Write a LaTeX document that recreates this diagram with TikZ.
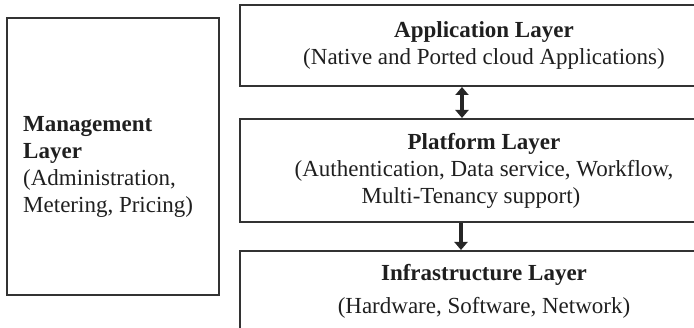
\documentclass[tikz,border=0pt]{standalone}
\usepackage{fontspec}
\setmainfont{Liberation Serif}
\usetikzlibrary{arrows.meta,positioning}

\begin{document}
\begin{tikzpicture}
[
	x					= 1pt,
	y					= -1pt,
	every node/.style	=
	{
		font			= \fontsize{23}{27}\selectfont,
		text			= black!88,
	},
	layer/.style		=
	{
		draw			= black!80,
		line width		= 2pt,
		inner sep		= 0pt,
		minimum width	= 488pt,
		align			= center,
	},
	updown/.style		=
	{
		{Triangle[length = 8pt, width = 13pt]}-{Triangle[length = 8pt, width = 13pt]},
		line width		= 4.5pt,
		draw			= black!85,
	},
	down/.style			=
	{
		-{Triangle[length = 8pt, width = 13pt]},
		line width		= 4.5pt,
		draw			= black!85,
	},
]

\useasboundingbox (0,0) rectangle (694,328);

% management column
\node [layer, minimum width = 212pt, minimum height = 277pt] (mgmt) at (113,156.5) {};
\node [anchor = west, align = left, inner sep = 0pt] (mgmtlbl) at ([xshift = 17pt, yshift = -10pt] mgmt.west)
	{\textbf{Management}\\ \textbf{Layer}\\ (Administration,\\ Metering, Pricing)};

% layer stack, cut off at the right edge
\node [layer, minimum height = 81pt] (app) at (484,45.5)
	{\textbf{Application Layer}\\ (Native and Ported cloud Applications)};
\node [layer, minimum height = 103pt, below = 31pt of app] (plat)
	{\textbf{Platform Layer}\\ (Authentication, Data service, Workflow,\\ Multi-Tenancy support)\hspace*{26pt}};
\node [layer, minimum height = 80pt, below = 27pt of plat] (infra)
	{\textbf{Infrastructure Layer}\\[6pt] (Hardware, Software, Network)};

\draw [updown] ([xshift = -22pt] app.south) -- ([xshift = -22pt] plat.north);
\draw [down] ([xshift = -23pt] plat.south) -- ([xshift = -23pt] infra.north);

\end{tikzpicture}
\end{document}
